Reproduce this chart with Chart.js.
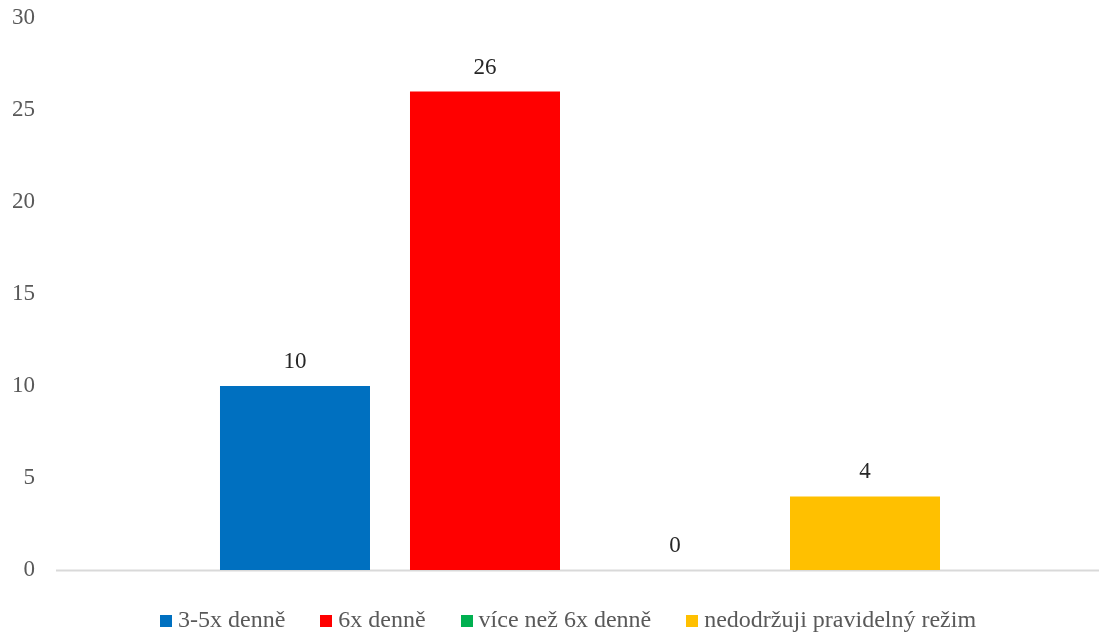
<!DOCTYPE html>
<html lang="cs">
<head>
<meta charset="utf-8">
<title>Pravidelnost stravování</title>
<script src="https://cdn.jsdelivr.net/npm/chart.js@4/dist/chart.umd.min.js"></script>
<style>
  html, body { margin: 0; padding: 0; background: #ffffff; }
  #wrap { position: relative; width: 1099px; height: 636px; overflow: hidden; }
  #chart { position: absolute; left: 0; top: 0; }
  #legend {
    position: absolute; left: 160px; top: 604px;
    display: flex; align-items: center; white-space: nowrap;
    font-family: "Liberation Serif", "Times New Roman", serif;
    font-size: 24px; color: #595959; line-height: 30px;
  }
  #legend .item { display: flex; align-items: center; margin-right: 35px; }
  #legend .box { width: 12px; height: 12px; margin-right: 6px; margin-top: 3px; }
</style>
</head>
<body>
<div id="wrap">
  <canvas id="chart" width="1099" height="636"></canvas>
  <div id="legend"></div>
</div>
<script>
// Odpovědi na otázku o počtu jídel za den
const seriesNames = ['3-5x denně', '6x denně', 'více než 6x denně', 'nedodržuji pravidelný režim'];
const seriesValues = [10, 26, 0, 4];
const seriesColors = ['#0070C0', '#FF0000', '#00B050', '#FFC000'];
const yTicks = [0, 5, 10, 15, 20, 25, 30];

const serif = '"Liberation Serif", "Times New Roman", serif';

// value labels above each bar
const valueLabels = {
  id: 'valueLabels',
  afterDatasetsDraw(chart) {
    const ctx = chart.ctx;
    ctx.save();
    ctx.font = '23px ' + serif;
    ctx.fillStyle = '#262626';
    ctx.textAlign = 'center';
    ctx.textBaseline = 'middle';
    chart.data.datasets.forEach((ds, i) => {
      const meta = chart.getDatasetMeta(i);
      meta.data.forEach((el, j) => {
        ctx.fillText(String(ds.data[j]), el.x, el.y - 24);
      });
    });
    ctx.restore();
  }
};

// light horizontal baseline at zero
const baseline = {
  id: 'baseline',
  beforeDatasetsDraw(chart) {
    const y = chart.scales.y.getPixelForValue(0);
    const ctx = chart.ctx;
    ctx.save();
    ctx.strokeStyle = '#d9d9d9';
    ctx.lineWidth = 2;
    ctx.beginPath();
    ctx.moveTo(56, y + 0.5);
    ctx.lineTo(chart.width, y + 0.5);
    ctx.stroke();
    ctx.restore();
  }
};

const chart = new Chart(document.getElementById('chart'), {
  type: 'bar',
  data: {
    labels: [''],
    datasets: seriesNames.map((name, i) => ({
      label: name,
      data: [seriesValues[i]],
      backgroundColor: seriesColors[i],
      borderWidth: 0,
      categoryPercentage: 0.7336,
      barPercentage: 0.7895
    }))
  },
  options: {
    responsive: false,
    devicePixelRatio: 1,
    animation: false,
    layout: { padding: { top: 18, right: 1, bottom: 66, left: 0 } },
    plugins: {
      legend: { display: false },
      tooltip: { enabled: false }
    },
    scales: {
      x: {
        grid: { display: false, drawTicks: false },
        border: { display: false },
        ticks: { display: false },
        afterFit(scale) { scale.height = 0; }
      },
      y: {
        min: 0,
        max: 30,
        grid: { display: false, drawTicks: false },
        border: { display: false },
        afterBuildTicks(scale) { scale.ticks = yTicks.map(v => ({ value: v })); },
        ticks: {
          padding: 27,
          color: '#595959',
          font: { family: serif, size: 23 }
        },
        afterFit(scale) {
          scale.width = 62;
          scale.paddingTop = 0;
          scale.paddingBottom = 0;
        }
      }
    }
  },
  plugins: [baseline, valueLabels]
});

// legend built from the chart's datasets
const legendEl = document.getElementById('legend');
chart.data.datasets.forEach(ds => {
  const item = document.createElement('span');
  item.className = 'item';
  const box = document.createElement('span');
  box.className = 'box';
  box.style.background = ds.backgroundColor;
  const txt = document.createElement('span');
  txt.textContent = ds.label;
  item.appendChild(box);
  item.appendChild(txt);
  legendEl.appendChild(item);
});
</script>
</body>
</html>
